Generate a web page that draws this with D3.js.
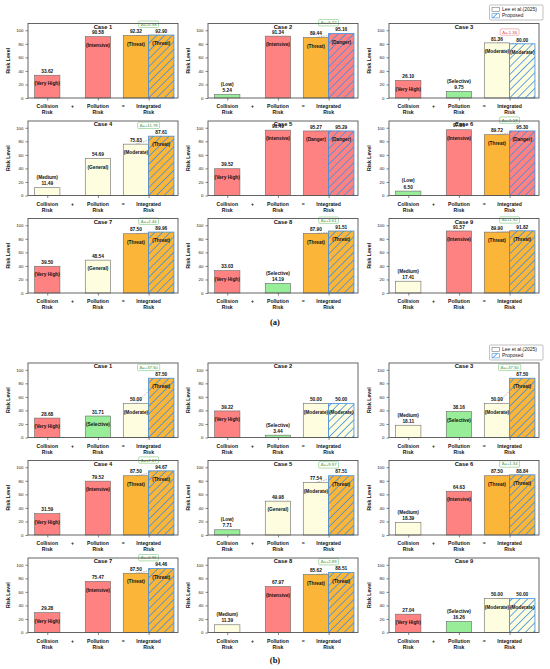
<!DOCTYPE html>
<html>
<head>
<meta charset="utf-8">
<script src="https://cdn.jsdelivr.net/npm/d3@7"></script>
<style>
  html, body { margin:0; padding:0; background:#fff; }
  svg { display:block; font-family:'Liberation Sans', Arial, sans-serif; }
</style>
</head>
<body>
<div id="chart"></div>
<script>
// risk comparison grid -- two sets of 9 cases, collision + pollution = integrated

const CASES = ["Case 1","Case 2","Case 3","Case 4","Case 5","Case 6","Case 7","Case 8","Case 9"];
const X_LABELS = [["Collision","Risk"],["Pollution","Risk"],["Integrated","Risk"]];
const OPERATORS = ["+","="];
const Y_TICKS = [0,20,40,60,80,100];
const SERIES_NAMES = ["Lee et al.(2025)","Proposed"];
const SECTION_LABELS = ["(a)","(b)"];

// set (a)
const A_COLLISION       = [33.62, 5.24, 26.10, 11.49, 39.52, 6.50, 39.50, 33.03, 17.41];
const A_COLLISION_LEVEL = ["Very High","Low","Very High","Medium","Very High","Low","Very High","Very High","Medium"];
const A_POLLUTION       = [90.58, 91.34, 9.75, 54.69, 96.49, 97.06, 48.54, 14.19, 91.57];
const A_POLLUTION_LEVEL = ["Intensive","Intensive","Selective","General","Intensive","Intensive","General","Selective","Intensive"];
const A_LEE             = [92.32, 89.44, 81.36, 75.83, 95.27, 89.72, 87.50, 87.90, 89.90];
const A_LEE_LEVEL       = ["Threat","Threat","Moderate","Moderate","Danger","Threat","Threat","Threat","Threat"];
const A_PROPOSED        = [92.90, 95.16, 80.00, 87.61, 95.29, 95.30, 89.96, 91.51, 91.82];
const A_PROPOSED_LEVEL  = ["Threat","Danger","Moderate","Threat","Danger","Danger","Threat","Threat","Threat"];

// set (b)
const B_COLLISION       = [28.68, 39.22, 18.11, 31.59, 7.71, 18.39, 29.28, 11.39, 27.04];
const B_COLLISION_LEVEL = ["Very High","Very High","Medium","Very High","Low","Medium","Very High","Medium","Very High"];
const B_POLLUTION       = [31.71, 3.44, 38.16, 79.52, 49.98, 64.63, 75.47, 67.97, 16.26];
const B_POLLUTION_LEVEL = ["Selective","Selective","Selective","Intensive","General","Intensive","Intensive","Intensive","Selective"];
const B_LEE             = [50.00, 50.00, 50.00, 87.50, 77.54, 87.50, 87.50, 85.62, 50.00];
const B_LEE_LEVEL       = ["Moderate","Moderate","Moderate","Threat","Moderate","Threat","Threat","Threat","Moderate"];
const B_PROPOSED        = [87.50, 50.00, 87.50, 94.67, 87.51, 88.84, 94.46, 88.51, 50.00];
const B_PROPOSED_LEVEL  = ["Threat","Moderate","Threat","Threat","Threat","Threat","Threat","Threat","Moderate"];

const LEVEL_COLOR = {
  "Very High":"#ff8282", "Intensive":"#ff8282", "Danger":"#ff8282",
  "Threat":"#fbb538",
  "Moderate":"#fefde0", "General":"#fefde0", "Medium":"#fefde0",
  "Low":"#98ee98", "Selective":"#98ee98"
};

const W = 550, H = 669;
const PW = 150, PH = 74.5;
const COL_X = [28, 208, 389];
const SECTIONS = [
  { rows:[23.5, 121, 218.5], label:SECTION_LABELS[0], labelY:325, legendY:5,
    col:A_COLLISION, colL:A_COLLISION_LEVEL, pol:A_POLLUTION, polL:A_POLLUTION_LEVEL,
    lee:A_LEE, leeL:A_LEE_LEVEL, pro:A_PROPOSED, proL:A_PROPOSED_LEVEL },
  { rows:[363, 460.5, 558], label:SECTION_LABELS[1], labelY:663, legendY:345,
    col:B_COLLISION, colL:B_COLLISION_LEVEL, pol:B_POLLUTION, polL:B_POLLUTION_LEVEL,
    lee:B_LEE, leeL:B_LEE_LEVEL, pro:B_PROPOSED, proL:B_PROPOSED_LEVEL }
];

const BLUE = "#3f8fe0";
const EDGE = "#6a6a6a";
const FRAME = "#555";

const svg = d3.select("#chart").append("svg").attr("width",W).attr("height",H);

const defs = svg.append("defs");
const pat = defs.append("pattern").attr("id","hatch")
  .attr("patternUnits","userSpaceOnUse").attr("width",5.5).attr("height",5.5)
  .attr("patternTransform","rotate(45)");
pat.append("line").attr("x1",0).attr("x2",0).attr("y1",0).attr("y2",5.5)
  .attr("stroke",BLUE).attr("stroke-width",1.6);

const x = d3.scaleLinear().domain([-0.38, 2.58]).range([0, PW]);
const y = d3.scaleLinear().domain([0, 110]).range([PH, 0]);
const BW = x(0.5) - x(0);

function bold(sel, size){
  return sel.attr("font-weight","bold").attr("font-size",size+"px").attr("fill","#111");
}

function drawPanel(g, i, s){
  const items = [
    { pos:0,    v:s.col[i], lvl:s.colL[i], hatch:false },
    { pos:1,    v:s.pol[i], lvl:s.polL[i], hatch:false },
    { pos:1.75, v:s.lee[i], lvl:s.leeL[i], hatch:false },
    { pos:2.25, v:s.pro[i], lvl:s.proL[i], hatch:true }
  ];

  g.append("rect").attr("width",PW).attr("height",PH).attr("fill","#fff");

  // dashed connector Lee -> Proposed, sits behind bars
  g.append("line")
    .attr("x1",x(1.75)).attr("y1",y(s.lee[i]))
    .attr("x2",x(2.25)).attr("y2",y(s.pro[i]))
    .attr("stroke","#888").attr("stroke-width",0.6).attr("stroke-dasharray","1.5,1");

  items.forEach(d=>{
    const bx = x(d.pos) - BW/2, by = y(d.v), bh = y(0) - y(d.v);
    g.append("rect").attr("x",bx).attr("y",by).attr("width",BW).attr("height",bh)
      .attr("fill",LEVEL_COLOR[d.lvl])
      .attr("stroke",d.hatch?"none":EDGE).attr("stroke-width",0.6);
    if(d.hatch){
      g.append("rect").attr("x",bx).attr("y",by).attr("width",BW).attr("height",bh)
        .attr("fill","url(#hatch)").attr("stroke",BLUE).attr("stroke-width",0.8);
    }
  });

  // case title first so value labels sit over it
  bold(g.append("text"),5.8).attr("x",PW/2).attr("y",5.4)
    .attr("text-anchor","middle").text(CASES[i]);

  items.forEach(d=>{
    const cx = x(d.pos), top = y(d.v);
    bold(g.append("text"),4.8).attr("x",cx).attr("y",top-2.3)
      .attr("text-anchor","middle").text(d.v.toFixed(2));
    const lab = bold(g.append("text"),4.8).attr("x",cx).attr("text-anchor","middle")
      .text("(" + d.lvl + ")");
    if(d.v < 20) lab.attr("y",top-8.6);
    else lab.attr("y",top+10.2);
  });

  // delta box
  const delta = s.pro[i] - s.lee[i];
  if(Math.abs(delta) >= 0.5){
    const pos = delta > 0;
    const cy = y(Math.max(s.lee[i], s.pro[i]) + 16);
    const txt = "Δ=" + (pos?"+":"-") + Math.abs(delta).toFixed(2);
    const bg = g.append("g").attr("transform",`translate(${x(2)},${cy})`);
    const t = bg.append("text").attr("text-anchor","middle").attr("dy","0.35em")
      .attr("font-size","4.2px").attr("fill",pos?"#2f8f2f":"#d23a3a").text(txt);
    const tw = t.node().getComputedTextLength();
    bg.insert("rect","text").attr("x",-tw/2-2).attr("y",-3.2).attr("width",tw+4).attr("height",6.4)
      .attr("rx",1).attr("fill","#fff")
      .attr("stroke",pos?"#7cc47c":"#ee8c8c").attr("stroke-width",0.6);
  }

  // axes
  g.append("g").call(d3.axisLeft(y).tickValues(Y_TICKS).tickSize(2.5).tickPadding(2))
    .call(a=>a.select(".domain").remove())
    .call(a=>a.selectAll("line").attr("stroke","#333").attr("stroke-width",0.6))
    .call(a=>a.selectAll("text").attr("font-size","4.4px").attr("fill","#222")
      .attr("font-family","'Liberation Sans', Arial, sans-serif"));

  g.append("g").attr("transform",`translate(0,${PH})`)
    .call(d3.axisBottom(x).tickValues([0,1,2]).tickSize(2.5).tickFormat(""))
    .call(a=>a.select(".domain").remove())
    .call(a=>a.selectAll("line").attr("stroke","#333").attr("stroke-width",0.6));

  X_LABELS.forEach((lines,k)=>{
    lines.forEach((ln,j)=>{
      bold(g.append("text"),5.1).attr("x",x(k)).attr("y",PH+10+j*6.3)
        .attr("text-anchor","middle").text(ln);
    });
  });
  OPERATORS.forEach((op,k)=>{
    bold(g.append("text"),5.1).attr("x",x(k+0.5)).attr("y",PH+10)
      .attr("text-anchor","middle").text(op);
  });

  bold(g.append("text"),5.2)
    .attr("transform",`translate(-18,${PH/2}) rotate(-90)`)
    .attr("text-anchor","middle").text("Risk Level");

  g.append("rect").attr("width",PW).attr("height",PH)
    .attr("fill","none").attr("stroke",FRAME).attr("stroke-width",0.9);
}

function drawLegend(ly){
  const lx = 489.5, lw = 53.5, lh = 15;
  const lg = svg.append("g").attr("transform",`translate(${lx},${ly})`);
  lg.append("rect").attr("width",lw).attr("height",lh).attr("rx",1)
    .attr("fill","#fff").attr("stroke","#999").attr("stroke-width",0.6);
  SERIES_NAMES.forEach((nm,k)=>{
    const ry = 2.3 + k*6.4;
    lg.append("rect").attr("x",2.5).attr("y",ry).attr("width",7.5).attr("height",4.2)
      .attr("fill",k?"url(#hatch)":"#fff")
      .attr("stroke",k?BLUE:"#777").attr("stroke-width",0.6);
    lg.append("text").attr("x",12.5).attr("y",ry+3.6)
      .attr("font-size","5px").attr("fill","#222").text(nm);
  });
}

SECTIONS.forEach(s=>{
  CASES.forEach((c,i)=>{
    const r = Math.floor(i/3), cidx = i%3;
    const g = svg.append("g").attr("transform",`translate(${COL_X[cidx]},${s.rows[r]})`);
    drawPanel(g,i,s);
  });
  drawLegend(s.legendY);
  svg.append("text").attr("x",W/2).attr("y",s.labelY).attr("text-anchor","middle")
    .attr("font-family","'Liberation Serif', 'Times New Roman', serif")
    .attr("font-weight","bold").attr("font-size","8.5px").attr("fill","#111")
    .text(s.label);
});
</script>
</body>
</html>
